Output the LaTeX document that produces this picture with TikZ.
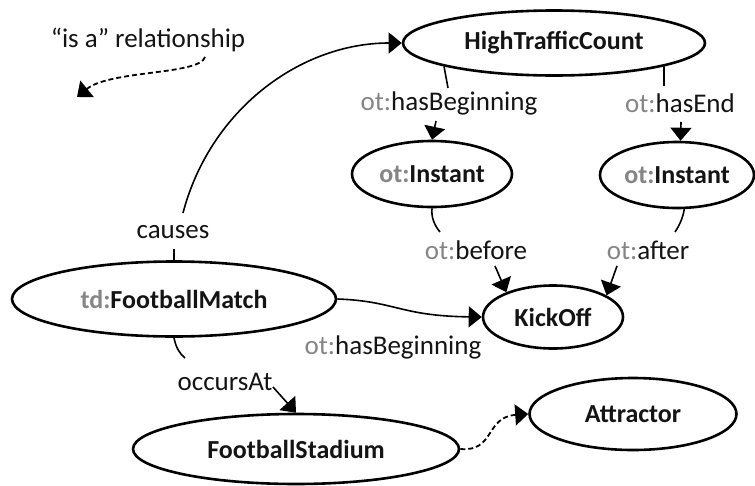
\documentclass[tikz,border=0pt]{standalone}
\usepackage{fontspec}
\setmainfont{Carlito}
\usetikzlibrary{shapes.geometric,arrows.meta}
\definecolor{pfx}{HTML}{858585}
\definecolor{txt}{HTML}{141414}
\begin{document}
\begin{tikzpicture}[x=1pt,y=-1pt,
  cls/.style={ellipse,draw,line width=2.6pt,inner sep=0pt,font=\fontsize{26}{30}\selectfont\bfseries,text=txt},
  lbl/.style={inner sep=0pt,font=\fontsize{27}{30}\selectfont,text=txt},
  rel/.style={line width=1.6pt},
  arr/.style={rel,-{Triangle[length=13pt,width=21pt]}},
  isa/.style={arr,line width=1.8pt,dash pattern=on 5pt off 3pt}
]
\useasboundingbox (0,0) rectangle (755,485);
% classes
\node[cls,minimum width=302,minimum height=65] (htc) at (554,43) {HighTrafficCount};
\node[cls,minimum width=160,minimum height=66] (li) at (432,174) {\textcolor{pfx}{ot:}Instant};
\node[cls,minimum width=154,minimum height=66] (ri) at (677,175) {\textcolor{pfx}{ot:}Instant};
\node[cls,minimum width=140,minimum height=63] (ko) at (553,317) {KickOff};
\node[cls,minimum width=324,minimum height=75] (fm) at (174,299) {\textcolor{pfx}{td:}FootballMatch};
\node[cls,minimum width=326,minimum height=70] (fs) at (296,449) {FootballStadium};
\node[cls,minimum width=207,minimum height=72] (att) at (633,414) {Attractor};
% labels
\node[lbl] (isalbl) at (148,40) {“is a” relationship};
\node[lbl] (causes) at (173,232) {causes};
\node[lbl] (hb) at (449,103) {\textcolor{pfx}{ot:}hasBeginning};
\node[lbl] (he) at (680,103) {\textcolor{pfx}{ot:}hasEnd};
\node[lbl] (bef) at (476,250) {\textcolor{pfx}{ot:}before};
\node[lbl] (aft) at (648,250) {\textcolor{pfx}{ot:}after};
\node[lbl] (hb2) at (393,347) {\textcolor{pfx}{ot:}hasBeginning};
\node[lbl] (occ) at (225,382) {occursAt};
% free ends
\coordinate (isaS) at (205,57);
\coordinate (isaE) at (77,97);
\coordinate (cA) at (174,249);
\coordinate (cB) at (183,213);
\coordinate (hbA) at (448,88);
\coordinate (hbB) at (436,121);
\coordinate (heA) at (664,86);
\coordinate (heB) at (681,122);
\coordinate (befA) at (440,232);
\coordinate (befB) at (495,266);
\coordinate (aftA) at (675,232);
\coordinate (aftB) at (617,266);
\coordinate (occA) at (185,358);
\coordinate (occB) at (273,387);
% connectors
\draw[isa] (isaS) .. controls (200,75) and (110,70) .. (isaE);
\draw[rel] (fm.north) -- (cA);
\draw[arr] (cB) .. controls (210,110) and (300,43) .. (htc.west);
\draw[rel] (htc.192) -- (hbA);
\draw[arr] (hbB) -- (li.north);
\draw[rel] (htc.348) -- (heA);
\draw[arr] (heB) -- (ri.84);
\draw[rel] (li.south) .. controls (431,218) and (435,226) .. (befA);
\draw[arr] (befB) -- (ko.152);
\draw[rel] (ri.282) .. controls (683,218) and (679,226) .. (aftA);
\draw[arr] (aftB) -- (ko.22);
\draw[arr] (fm.east) .. controls (395,301) and (400,316) .. (ko.west);
\draw[rel] (fm.south) .. controls (176,348) and (180,354) .. (occA);
\draw[arr] (occB) -- (fs.north);
\draw[isa] (fs.east) .. controls (495,452) and (485,417) .. (att.west);
\end{tikzpicture}
\end{document}
